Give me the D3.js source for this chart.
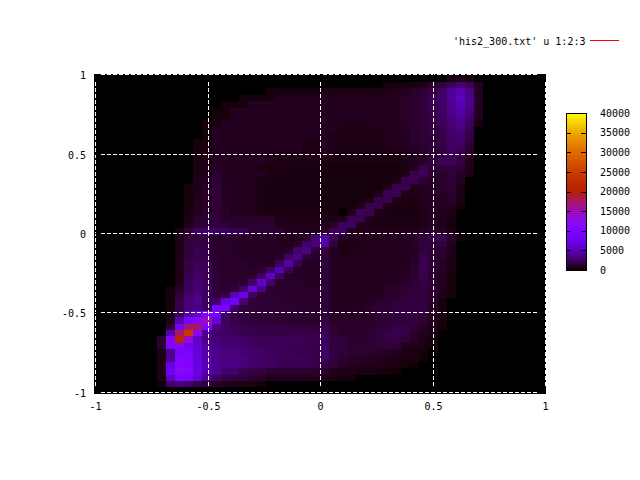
<!DOCTYPE html>
<html>
<head>
<meta charset="utf-8">
<style>
html,body{margin:0;padding:0;background:#fff;}
svg{display:block;}
text{font-family:"DejaVu Sans Mono",monospace;font-size:10px;fill:#000;}
</style>
<script src="https://cdnjs.cloudflare.com/ajax/libs/d3/7.8.5/d3.min.js"></script>
</head>
<body>
<svg id="c" width="640" height="480"></svg>
<script>
// Histogram counts, in hundreds, listed row by row from the top of the plot.
const valueUnit = 100;
const binCount = 50;
const rowStarts = [39,32,19,16,14,13,13,12,12,12,11,11,11,11,11,11,11,10,10,10,10,10,10,10,9,9,9,9,9,9,9,9,9,8,8,8,8,8,8,8,8,7,7,7,7,7,7,7,7,0];
const rowValues = [
[3,6,3],
[3,3,3,4,6,12,16,22,30,24,8],
[3,3,3,3,3,3,5,5,5,5,5,5,5,6,7,8,10,12,18,26,38,48,34,9],
[3,3,3,3,7,7,7,7,7,7,7,7,7,7,7,7,7,8,10,12,15,21,28,42,54,38,9],
[3,3,3,8,8,8,8,8,8,8,8,8,8,8,8,8,8,8,8,8,10,12,15,20,26,38,50,36,9],
[3,3,8,8,8,8,8,8,8,8,8,8,8,8,8,8,8,8,8,8,8,10,12,15,20,25,36,46,32,8],
[3,3,8,8,8,8,8,8,8,8,8,8,8,8,8,8,8,8,8,8,8,10,12,14,18,24,32,40,28,7],
[3,3,8,8,8,8,8,8,8,8,8,8,8,8,8,6,6,6,6,8,8,8,10,12,14,18,22,30,36,24,4],
[3,8,8,8,8,8,8,8,8,8,8,8,8,8,8,5,5,5,5,5,7,8,9,11,13,17,20,28,32,20],
[3,8,8,8,8,8,8,8,8,8,8,8,8,8,5,5,5,5,5,5,7,8,9,11,13,15,19,26,28,18],
[3,3,8,8,8,8,8,8,8,8,8,8,5,5,8,5,5,5,5,5,5,6,7,8,10,12,14,18,26,26,15],
[3,4,8,8,8,8,8,8,8,8,8,8,5,5,8,5,5,5,5,5,5,5,6,7,9,10,13,17,24,22,12],
[4,4,8,8,8,8,8,8,5,5,5,5,5,5,6,4,4,4,4,4,4,4,4,6,7,9,12,16,20,18,10],
[4,6,8,8,8,8,8,8,7,5,5,5,5,5,4,4,4,4,4,4,4,4,4,5,6,10,16,22,22,16,7],
[4,6,8,8,8,8,8,4,4,4,4,4,4,4,3,3,3,3,3,3,3,3,3,4,8,20,14,14,16,12,6],
[5,7,12,8,8,8,8,8,4,4,4,4,4,4,3,3,3,3,3,3,3,3,3,6,20,22,12,11,14,10,5],
[6,8,12,8,8,8,8,4,4,4,4,4,4,4,3,3,3,3,3,3,3,3,6,20,20,11,10,11,13,9],
[3,6,9,14,9,8,8,8,4,4,4,4,4,4,4,3,3,3,3,3,3,3,6,20,20,8,9,9,10,12,6],
[3,6,10,14,9,8,8,8,4,4,4,4,4,4,4,3,3,3,3,3,3,6,20,20,6,6,8,9,10,11,5],
[3,7,10,14,9,8,8,8,4,4,4,4,4,4,4,3,3,3,3,3,6,20,20,6,4,4,7,9,9,10,4],
[3,7,10,14,10,8,8,8,4,4,4,4,4,4,4,3,3,3,3,6,20,20,6,4,4,4,7,8,8,8,3],
[3,9,11,14,10,8,8,8,4,4,4,4,4,4,4,4,4,0,6,22,20,6,4,4,4,4,6,8,7,5],
[5,10,12,15,11,10,10,10,10,10,5,5,5,5,5,4,5,7,22,22,6,4,4,4,4,4,6,8,6,3],
[7,12,14,16,14,12,12,12,12,12,7,7,7,7,7,8,10,24,24,7,5,5,5,5,5,5,7,9,7,3],
[4,14,24,26,26,24,20,20,12,12,12,12,8,8,8,8,10,22,24,8,7,7,7,7,7,7,7,9,13,10,4],
[5,14,16,16,10,10,10,9,9,9,9,7,7,7,12,30,46,20,8,8,7,7,7,7,8,8,10,13,20,20,10,3],
[5,14,18,16,10,10,9,9,9,9,9,8,8,10,26,32,44,15,5,5,7,7,7,7,8,8,10,14,14,16,8],
[5,15,20,18,11,10,9,9,9,9,9,9,10,28,34,14,14,8,5,5,7,7,7,7,8,8,8,16,14,12,6],
[6,16,20,18,12,10,10,9,9,9,9,10,26,36,14,10,14,8,7,7,7,7,7,7,8,8,10,20,14,10,6],
[6,18,22,20,12,10,10,10,9,9,10,24,45,20,9,9,14,8,7,7,7,7,7,7,8,8,10,20,14,9,5],
[6,18,24,22,12,10,10,10,10,11,26,50,24,9,9,9,14,8,8,8,8,8,8,8,8,9,11,20,13,9,4],
[6,20,26,22,13,11,10,10,12,26,55,26,10,9,9,9,14,8,8,8,8,8,8,8,8,9,12,20,12,8,3],
[7,22,28,24,14,11,11,12,28,60,28,11,10,10,9,9,14,8,8,8,8,8,8,8,8,10,13,18,12,8,3],
[3,10,24,30,24,14,12,13,30,62,34,12,11,11,10,10,10,14,8,7,7,7,7,7,10,10,13,15,16,12,6,3],
[3,14,28,34,24,14,18,52,72,26,13,12,11,11,10,10,10,14,8,8,8,8,8,8,10,11,14,15,16,12,6,3],
[3,18,30,36,24,28,70,80,30,14,13,12,12,11,11,10,11,14,8,8,8,8,8,10,12,14,15,16,16,10,3],
[3,18,32,34,24,95,90,28,16,14,13,13,12,12,11,11,11,14,8,8,8,9,11,13,14,15,16,17,17,10,3],
[4,22,46,62,100,85,26,18,15,14,14,13,12,12,12,12,11,15,8,9,9,9,9,12,13,15,15,15,14,8,3],
[6,48,90,110,150,68,24,18,16,15,14,13,12,11,11,11,10,18,10,10,10,10,10,13,13,15,15,14,13,7,3],
[12,85,170,175,100,35,24,22,20,18,18,18,18,16,16,16,14,20,12,10,10,10,12,12,14,18,18,14,10,6,3],
[50,175,240,120,38,28,26,24,20,20,18,18,18,18,18,18,18,22,14,11,11,11,12,14,18,20,16,10,8,4],
[12,105,210,140,60,34,30,28,28,26,24,22,22,22,22,22,20,20,24,16,14,12,11,12,14,17,18,14,10,6,3],
[12,100,105,78,62,42,34,30,30,28,24,22,22,22,20,20,20,18,25,16,14,12,12,12,13,14,13,8,6,5,3],
[5,38,95,90,65,45,36,32,32,30,28,26,24,22,22,20,20,18,26,17,14,12,12,11,10,9,7,5,4,3],
[5,40,100,95,65,45,36,32,34,32,28,26,24,22,22,22,22,18,24,16,12,10,10,9,8,7,5,4,4,2],
[6,70,112,100,68,48,38,34,34,30,28,26,24,20,20,20,20,18,18,14,10,8,7,6,6,5,4,3,2],
[6,78,115,105,70,48,38,28,26,20,18,16,12,12,12,12,12,10,12,8,6,5,4,4,3,3,2],
[6,55,95,88,60,38,25,18,16,14,12,10,7,7,7,7,7,7,6,4,3,3],
[2,26,32,28,20,14,10,8,6,5,4,3],
[]
];
const axisTicks = [-1,-0.5,0,0.5,1];
const colorTicks = [0,5000,10000,15000,20000,25000,30000,35000,40000];
const legendLabel = "'his2_300.txt' u 1:2:3";

const svg = d3.select("#c");
const cells = rowValues.flatMap((vals,row)=>vals.map((v,k)=>({col:rowStarts[row]+k,row,value:v*valueUnit})));

// gnuplot palette: rgbformulae 7,5,15
const palette = t => {
  const u = Math.max(0,Math.min(1,t));
  return d3.rgb(255*Math.sqrt(u),255*u*u*u,255*Math.max(0,Math.sin(2*Math.PI*u))).formatHex();
};
const color = d3.scaleLinear().domain([0,40000]).range([0,1]).clamp(true);

const x = d3.scaleLinear().domain([-1,1]).rangeRound([95,545]);
const y = d3.scaleLinear().domain([-1,1]).rangeRound([391.9,74.1]);
const colEdge = d3.scaleLinear().domain([0,binCount]).range([94,546]);
const rowEdge = d3.scaleLinear().domain([0,binCount]).range([75.7,393.7]);

// plot background
svg.append("rect").attr("x",94).attr("y",74).attr("width",452).attr("height",320).attr("fill","#000");

svg.append("g").selectAll("rect").data(cells).join("rect")
  .attr("x",d=>Math.round(colEdge(d.col)))
  .attr("y",d=>Math.round(rowEdge(d.row)))
  .attr("width",d=>Math.round(colEdge(d.col+1))-Math.round(colEdge(d.col)))
  .attr("height",d=>Math.round(rowEdge(d.row+1))-Math.round(rowEdge(d.row)))
  .attr("fill",d=>palette(color(d.value)))
  .attr("shape-rendering","crispEdges");

// border
svg.append("rect").attr("x",95.5).attr("y",74.5).attr("width",450).attr("height",318)
  .attr("fill","none").attr("stroke","#000");

// grid
const grid = svg.append("g").attr("stroke","#fff").attr("stroke-dasharray","4 2").attr("shape-rendering","crispEdges");
grid.selectAll(".v").data(axisTicks).join("line").attr("class","v")
  .attr("x1",d=>x(d)+0.5).attr("x2",d=>x(d)+0.5).attr("y1",y(-1)).attr("y2",y(1));
grid.selectAll(".h").data(axisTicks).join("line").attr("class","h")
  .attr("y1",d=>y(d)+0.5).attr("y2",d=>y(d)+0.5).attr("x1",x(-1)).attr("x2",x(1));

// axes: ticks point inward on all four sides
const fmt = d => String(d);
const blank = () => "";
const styleAxis = g => { g.select(".domain").remove(); g.selectAll("line").attr("stroke","#000").attr("shape-rendering","crispEdges"); g.selectAll("text").attr("fill","#000"); };
svg.append("g").attr("transform",`translate(0,${y(-1)})`)
  .call(d3.axisBottom(x).tickValues(axisTicks).tickFormat(fmt).tickSizeInner(-6).tickSizeOuter(0).tickPadding(11)).call(styleAxis);
svg.append("g").attr("transform",`translate(0,${y(1)})`)
  .call(d3.axisTop(x).tickValues(axisTicks).tickFormat(blank).tickSizeInner(-6).tickSizeOuter(0)).call(styleAxis);
svg.append("g").attr("transform",`translate(${x(-1)},0)`)
  .call(d3.axisLeft(y).tickValues(axisTicks).tickFormat(fmt).tickSizeInner(-6).tickSizeOuter(0).tickPadding(9)).call(styleAxis)
  .selectAll("text").attr("dy","0.42em");
svg.append("g").attr("transform",`translate(${x(1)},0)`)
  .call(d3.axisRight(y).tickValues(axisTicks).tickFormat(blank).tickSizeInner(-6).tickSizeOuter(0)).call(styleAxis);

// colour bar
const cb = d3.scaleLinear().domain([0,40000]).range([270,113]);
const cbSteps = d3.range(113,270);
svg.append("g").selectAll("rect").data(cbSteps).join("rect")
  .attr("x",566).attr("width",20).attr("y",d=>d).attr("height",1)
  .attr("fill",d=>palette(color(cb.invert(d+0.5))))
  .attr("shape-rendering","crispEdges");
svg.append("rect").attr("x",566.5).attr("y",113.5).attr("width",20).attr("height",157)
  .attr("fill","none").attr("stroke","#000");
svg.append("g").attr("transform","translate(586,0)")
  .call(d3.axisRight(cb).tickValues(colorTicks).tickFormat(fmt).tickSizeInner(-5).tickSizeOuter(0).tickPadding(14)).call(styleAxis);
svg.append("g").attr("transform","translate(566,0)")
  .call(d3.axisLeft(cb).tickValues(colorTicks).tickFormat(blank).tickSizeInner(-5).tickSizeOuter(0)).call(styleAxis);

// legend
svg.append("text").attr("x",453).attr("y",44.5).text(legendLabel);
svg.append("line").attr("x1",590).attr("x2",619).attr("y1",40.5).attr("y2",40.5).attr("stroke","#f00");
</script>
</body>
</html>
